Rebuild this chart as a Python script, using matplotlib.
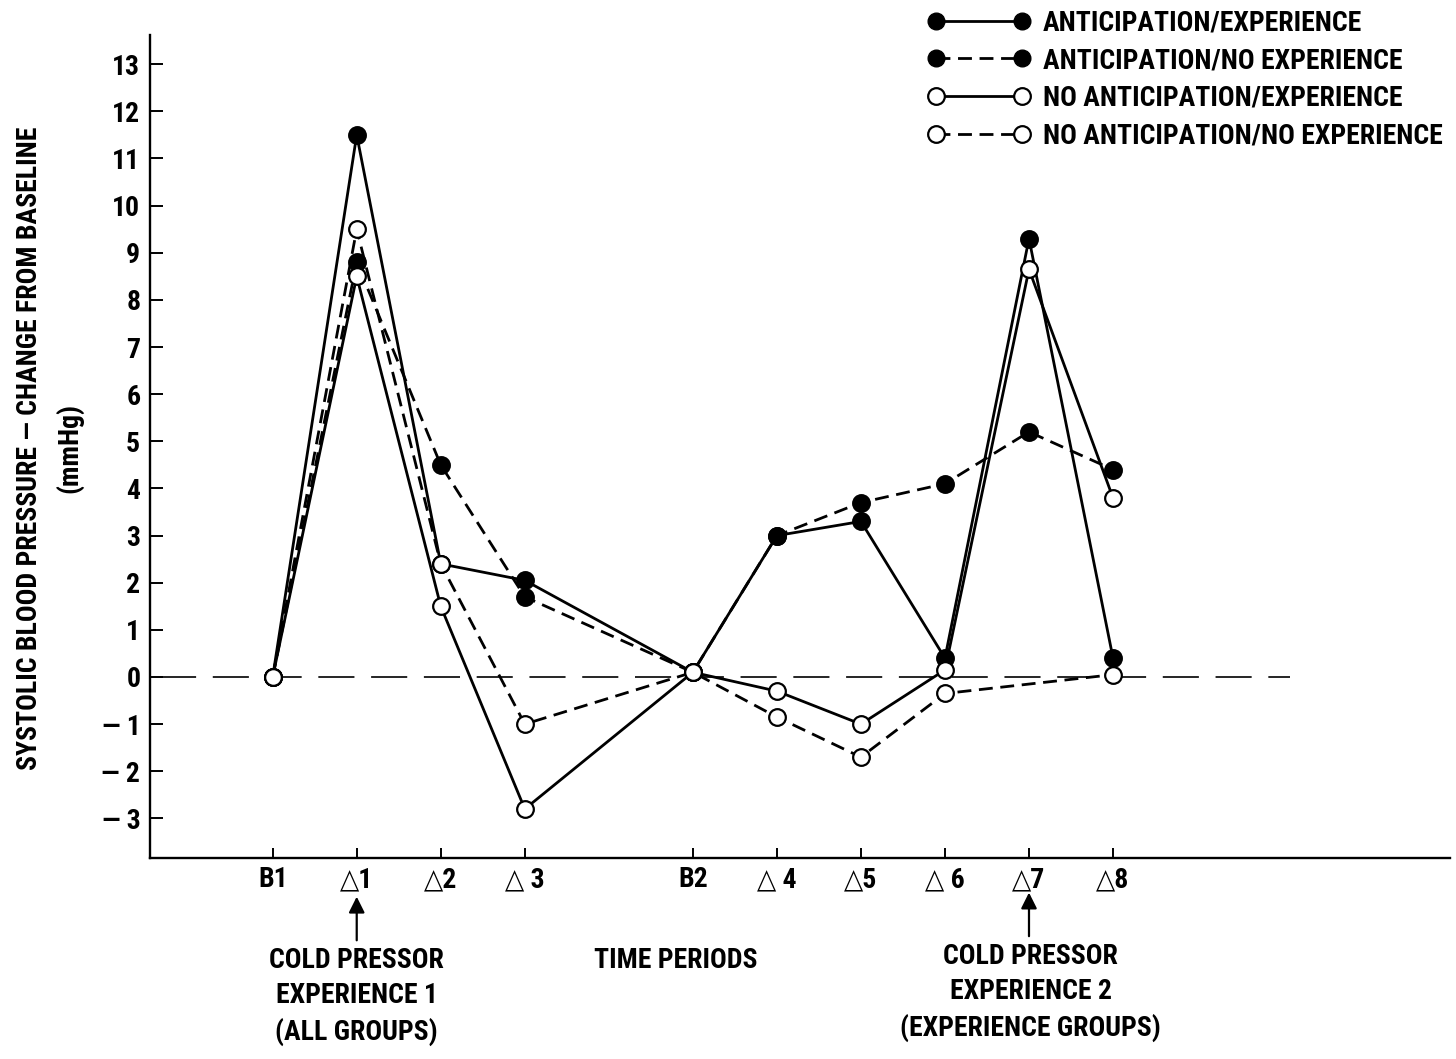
import matplotlib
matplotlib.use("Agg")
import matplotlib.pyplot as plt
from matplotlib import font_manager as fm
from matplotlib.lines import Line2D

# ---------------- data ----------------
x_labels = ["B1", "△1", "△2", "△ 3", "B2", "△ 4", "△5", "△ 6", "△7", "△8"]
x_pos = [0, 1, 2, 3, 5, 6, 7, 8, 9, 10]

ant_exp = [0, 11.5, 2.4, 2.05, 0.1, 3.0, 3.3, 0.4, 9.3, 0.4]
ant_noexp = [0, 8.8, 4.5, 1.7, 0.1, 3.0, 3.7, 4.1, 5.2, 4.4]
noant_exp = [0, 8.5, 1.5, -2.8, 0.1, -0.3, -1.0, 0.15, 8.65, 3.8]
# no marker at Δ7 for this group (no second cold pressor)
noant_noexp_pos = [0, 1, 2, 3, 5, 6, 7, 8, 10]
noant_noexp = [0, 9.5, 2.4, -1.0, 0.1, -0.85, -1.7, -0.35, 0.05]

series_names = ["ANTICIPATION/EXPERIENCE", "ANTICIPATION/NO EXPERIENCE",
                "NO ANTICIPATION/EXPERIENCE", "NO ANTICIPATION/NO EXPERIENCE"]

y_ticks = list(range(-3, 14))
y_tick_labels = [("— %d" % (-v)) if v < 0 else str(v) for v in y_ticks]

# ---------------- fonts ----------------
names = {f.name for f in fm.fontManager.ttflist}
fam = "DejaVu Sans"
for cand in ["Roboto Condensed", "Liberation Sans Narrow", "DejaVu Sans Condensed"]:
    if cand in names:
        fam = cand
        break
plt.rcParams["font.family"] = [fam, "DejaVu Sans"]
plt.rcParams["font.weight"] = "bold"
plt.rcParams["font.stretch"] = "condensed"
plt.rcParams["lines.scale_dashes"] = False

fig = plt.figure(figsize=(14.56, 10.59), dpi=100)
ax = fig.add_axes([150 / 1456, 1 - 858 / 1059, 1300 / 1456, 823 / 1059])

ax.set_xlim(-1.46, 14.01)
ax.set_ylim(-3.84, 13.62)

# baseline reference dashed line
ax.axhline(0, xmin=0.008, xmax=0.877, color="black", lw=1.2, dashes=(26, 12), zorder=1)

lw = 2.0
dash = (10, 5.5)
ms = 12
mew = 1.6

ax.plot(x_pos, ant_exp, color="black", lw=lw, ls="-", zorder=2)
ax.plot(x_pos, ant_noexp, color="black", lw=lw, dashes=dash, zorder=2)
ax.plot(x_pos, noant_exp, color="black", lw=lw, ls="-", zorder=2)
ax.plot(noant_noexp_pos, noant_noexp, color="black", lw=lw, dashes=dash, zorder=2)

ax.plot(x_pos, ant_exp, ls="none", marker="o", ms=ms, mfc="black", mec="black", mew=mew, zorder=3)
ax.plot(x_pos, ant_noexp, ls="none", marker="o", ms=ms, mfc="black", mec="black", mew=mew, zorder=3)
ax.plot(x_pos, noant_exp, ls="none", marker="o", ms=ms, mfc="white", mec="black", mew=mew, zorder=4)
ax.plot(noant_noexp_pos, noant_noexp, ls="none", marker="o", ms=ms, mfc="white", mec="black", mew=mew, zorder=4)

# axes styling
for s in ["top", "right"]:
    ax.spines[s].set_visible(False)
for s in ["left", "bottom"]:
    ax.spines[s].set_linewidth(1.7)

ax.set_yticks(y_ticks)
ax.set_yticklabels(y_tick_labels)
ax.set_xticks(x_pos)
ax.set_xticklabels(x_labels)
ax.tick_params(axis="y", direction="in", length=9, width=1.4, pad=7, labelsize=20)
ax.tick_params(axis="x", direction="in", length=7, width=1.4, pad=6, labelsize=20)

# y label
fig.text(50 / 1456, 1 - 448 / 1059,
         "SYSTOLIC BLOOD PRESSURE — CHANGE FROM BASELINE\n(mmHg)",
         rotation=90, ha="center", va="center", ma="center",
         fontsize=20, fontweight="bold", linespacing=1.55)

# annotations below the axis
tr = ax.get_xaxis_transform()
arrowprops = dict(arrowstyle="-|>", color="black", lw=1.6, mutation_scale=24,
                  shrinkA=0, shrinkB=0)
ax.annotate("", xy=(1, -0.047), xytext=(1, -0.10), xycoords=tr, textcoords=tr,
            arrowprops=arrowprops)
ax.annotate("", xy=(9, -0.042), xytext=(9, -0.095), xycoords=tr, textcoords=tr,
            arrowprops=arrowprops)

ax.text(1, -0.108, "COLD PRESSOR\nEXPERIENCE 1\n(ALL GROUPS)", transform=tr,
        ha="center", va="top", ma="center", fontsize=20, linespacing=1.4)
ax.text(4.8, -0.108, "TIME PERIODS", transform=tr,
        ha="center", va="top", fontsize=20)
ax.text(9.02, -0.103, "COLD PRESSOR\nEXPERIENCE 2\n(EXPERIENCE GROUPS)", transform=tr,
        ha="center", va="top", ma="center", fontsize=20, linespacing=1.4)

# legend
handles = [
    Line2D([], [], color="black", lw=lw, ls="-", marker="o", ms=ms, mfc="black", mec="black"),
    Line2D([], [], color="black", lw=lw, dashes=dash, marker="o", ms=ms, mfc="black", mec="black"),
    Line2D([], [], color="black", lw=lw, ls="-", marker="o", ms=ms, mfc="white", mec="black", mew=mew),
    Line2D([], [], color="black", lw=lw, dashes=dash, marker="o", ms=ms, mfc="white", mec="black", mew=mew),
]
fig.legend(handles, series_names, loc="upper left",
           bbox_to_anchor=(922 / 1456, 1 - 4 / 1059), frameon=False,
           numpoints=2, handlelength=3.7, handletextpad=0.45, labelspacing=0.38,
           prop=dict(size=20, weight="bold"), borderaxespad=0, borderpad=0.2)

fig.savefig("out.png", dpi=100, facecolor="white")
